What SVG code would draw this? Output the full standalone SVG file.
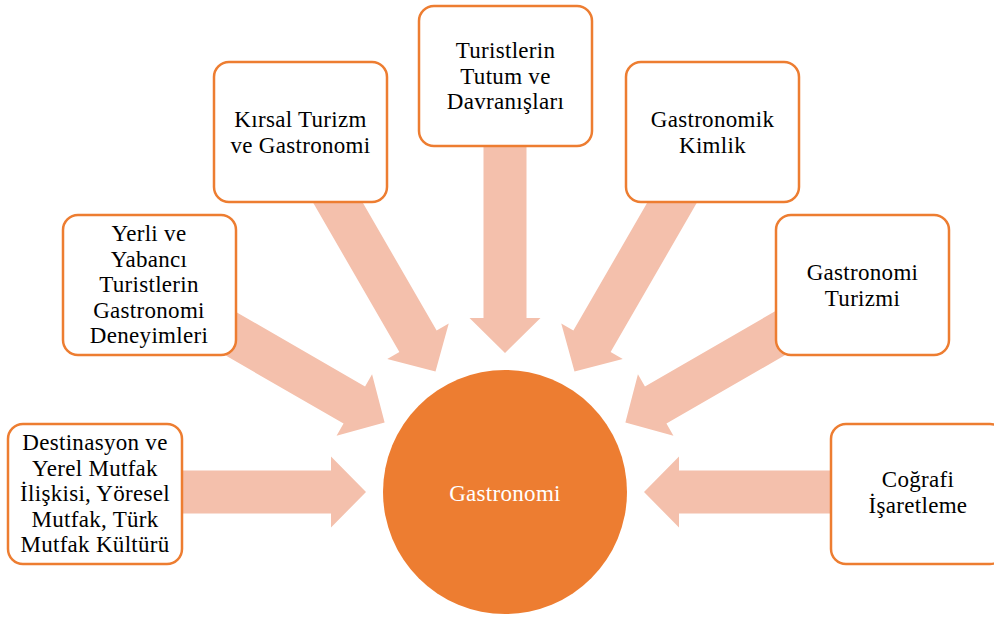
<svg xmlns="http://www.w3.org/2000/svg" width="994" height="620" viewBox="0 0 994 620">
<style>
.arrow{fill:#F4C0AC;}
.box{fill:#FFFFFF;stroke:#ED7D31;stroke-width:2.5;}
.lbl{font-size:23px;fill:#000000;text-anchor:middle;letter-spacing:0.3px;}
.hub{font-size:23px;fill:#FFFFFF;text-anchor:middle;letter-spacing:0.3px;}
</style>
<defs>
<polygon id="arr" points="-139,0 -174,-35.5 -174,-21.5 -360,-21.5 -360,21.5 -174,21.5 -174,35.5"/>
</defs>
<rect width="994" height="620" fill="#FFFFFF"/>
<g id="connectors" class="arrow">
<use href="#arr" transform="translate(505,492) rotate(0)"/>
<use href="#arr" transform="translate(505,492) rotate(30)"/>
<use href="#arr" transform="translate(505,492) rotate(60)"/>
<use href="#arr" transform="translate(505,492) rotate(90)"/>
<use href="#arr" transform="translate(505,492) rotate(120)"/>
<use href="#arr" transform="translate(505,492) rotate(150)"/>
<use href="#arr" transform="translate(505,492) rotate(180)"/>
</g>
<g id="hub">
<circle cx="505" cy="492" r="122" fill="#ED7D31"/>
<text class="hub" font-family="Liberation Serif, DejaVu Serif, serif" x="505" y="501">Gastronomi</text>
</g>
<g font-family="Liberation Serif, DejaVu Serif, serif">
<g id="node-destinasyon">
<rect class="box" x="8" y="424" width="174" height="140" rx="15"/>
<text class="lbl"><tspan x="95" y="450">Destinasyon ve</tspan><tspan x="95" y="475.5">Yerel Mutfak</tspan><tspan x="95" y="501">İlişkisi, Yöresel</tspan><tspan x="95" y="526.5">Mutfak, Türk</tspan><tspan x="95" y="552">Mutfak Kültürü</tspan></text>
</g>
<g id="node-yerli">
<rect class="box" x="63" y="215" width="173" height="140" rx="15"/>
<text class="lbl"><tspan x="149" y="241">Yerli ve</tspan><tspan x="149" y="266.5">Yabancı</tspan><tspan x="149" y="292">Turistlerin</tspan><tspan x="149" y="317.5">Gastronomi</tspan><tspan x="149" y="343">Deneyimleri</tspan></text>
</g>
<g id="node-kirsal">
<rect class="box" x="214" y="62" width="173" height="140" rx="15"/>
<text class="lbl"><tspan x="300.5" y="127">Kırsal Turizm</tspan><tspan x="300.5" y="153">ve Gastronomi</tspan></text>
</g>
<g id="node-tutum">
<rect class="box" x="419" y="6" width="173" height="140" rx="15"/>
<text class="lbl"><tspan x="505.5" y="58">Turistlerin</tspan><tspan x="505.5" y="83.5">Tutum ve</tspan><tspan x="505.5" y="109">Davranışları</tspan></text>
</g>
<g id="node-kimlik">
<rect class="box" x="626" y="62" width="173" height="140" rx="15"/>
<text class="lbl"><tspan x="712.5" y="127">Gastronomik</tspan><tspan x="712.5" y="153">Kimlik</tspan></text>
</g>
<g id="node-turizm">
<rect class="box" x="776" y="215" width="173" height="140" rx="15"/>
<text class="lbl"><tspan x="862.5" y="280">Gastronomi</tspan><tspan x="862.5" y="306">Turizmi</tspan></text>
</g>
<g id="node-cografi">
<rect class="box" x="831" y="424" width="174" height="140" rx="15"/>
<text class="lbl"><tspan x="918" y="487">Coğrafi</tspan><tspan x="918" y="513">İşaretleme</tspan></text>
</g>
</g>
</svg>
